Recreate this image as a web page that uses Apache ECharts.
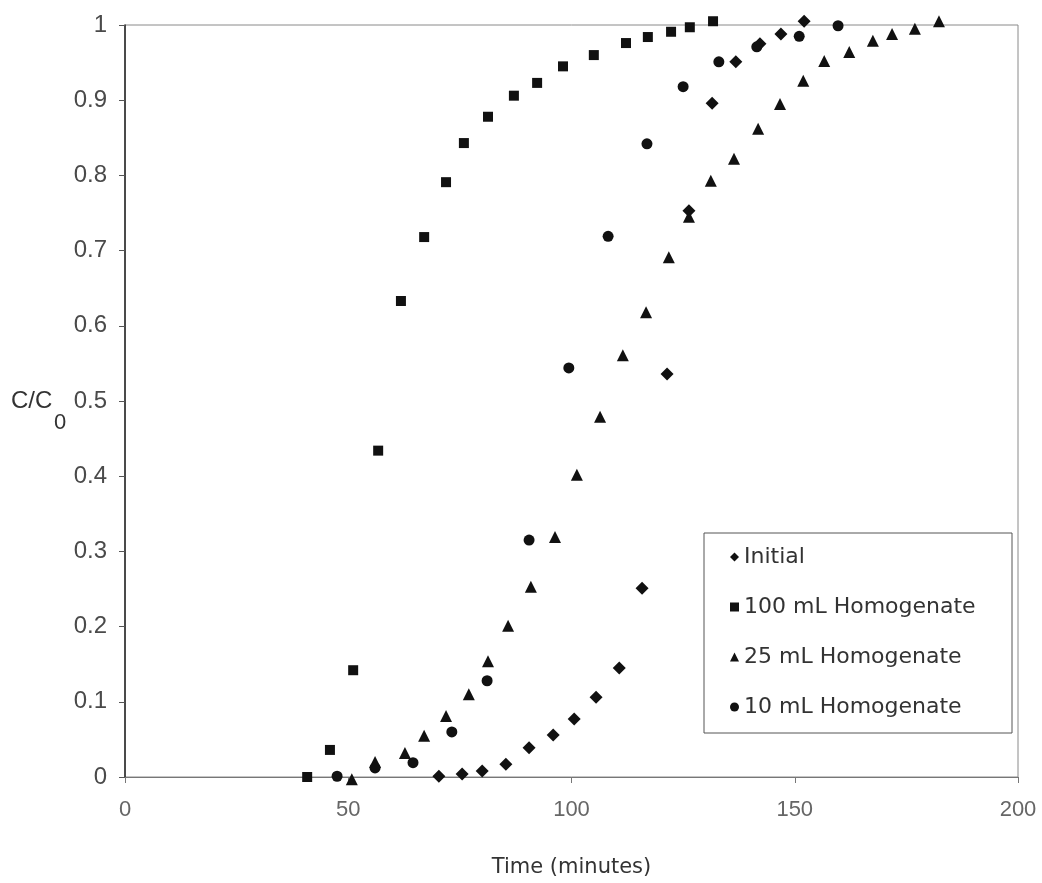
<!DOCTYPE html>
<html>
<head>
<meta charset="utf-8">
<script src="https://cdn.jsdelivr.net/npm/echarts@6/dist/echarts.min.js"></script>
<style>
  html, body { margin: 0; padding: 0; background: #fff; }
  #chart { width: 1042px; height: 883px; }
</style>
</head>
<body>
<div id="chart"></div>
<script>
// Breakthrough curves: relative concentration C/C0 against time (minutes)
const seriesNames = ['Initial', '100 mL Homogenate', '25 mL Homogenate', '10 mL Homogenate'];

// [time (min), C/C0]
const initialData = [
  [70.3, 0.001], [75.5, 0.004], [80.0, 0.008], [85.3, 0.017], [90.5, 0.039],
  [95.9, 0.056], [100.6, 0.077], [105.5, 0.106], [110.7, 0.145], [115.8, 0.251],
  [121.4, 0.536], [126.3, 0.753], [131.5, 0.896], [136.8, 0.951], [142.2, 0.975],
  [146.9, 0.988], [152.1, 1.005]
];
const homog100Data = [
  [40.8, 0.0], [45.9, 0.036], [51.1, 0.142], [56.7, 0.434], [61.8, 0.633],
  [67.0, 0.718], [71.9, 0.791], [75.9, 0.843], [81.3, 0.878], [87.1, 0.906],
  [92.3, 0.923], [98.1, 0.945], [105.0, 0.960], [112.2, 0.976], [117.1, 0.984],
  [122.3, 0.991], [126.5, 0.997], [131.7, 1.005]
];
const homog25Data = [
  [50.8, -0.003], [56.0, 0.020], [62.7, 0.032], [67.0, 0.055], [71.9, 0.081],
  [77.0, 0.110], [81.3, 0.154], [85.8, 0.201], [90.9, 0.253], [96.3, 0.319],
  [101.2, 0.402], [106.4, 0.479], [111.5, 0.561], [116.7, 0.618], [121.8, 0.691],
  [126.3, 0.745], [131.2, 0.793], [136.4, 0.822], [141.8, 0.862], [146.7, 0.895],
  [151.9, 0.926], [156.6, 0.952], [162.2, 0.964], [167.5, 0.979], [171.8, 0.988],
  [176.9, 0.995], [182.3, 1.005]
];
const homog10Data = [
  [47.5, 0.001], [56.0, 0.012], [64.5, 0.019], [73.2, 0.060], [81.1, 0.128],
  [90.5, 0.315], [99.4, 0.544], [108.2, 0.719], [116.9, 0.842], [125.0, 0.918],
  [133.0, 0.951], [141.5, 0.971], [151.0, 0.985], [159.7, 0.999]
];

const xTicks = [0, 50, 100, 150, 200];
const yTicks = [0, 0.1, 0.2, 0.3, 0.4, 0.5, 0.6, 0.7, 0.8, 0.9, 1];

const labelFont = "'Liberation Sans Narrow', 'Liberation Sans', 'DejaVu Sans', sans-serif";
const legendFont = "'DejaVu Sans', sans-serif";
const ink = '#111111';
const labelGrey = '#4a4a4a';

const chart = echarts.init(document.getElementById('chart'), null, { renderer: 'canvas' });

function scatter(name, data, symbol, size) {
  return {
    name: name,
    type: 'scatter',
    data: data,
    symbol: symbol,
    symbolSize: size,
    clip: false,
    itemStyle: { color: ink, opacity: 1 },
    z: 3
  };
}

chart.setOption({
  backgroundColor: '#ffffff',
  animation: false,
  grid: {
    left: 125, right: 24, top: 25, bottom: 105,
    show: true,
    borderColor: '#8a8a8a',
    borderWidth: 1
  },
  xAxis: {
    type: 'value',
    min: xTicks[0],
    max: xTicks[xTicks.length - 1],
    interval: 50,
    name: 'Time (minutes)',
    nameLocation: 'middle',
    nameGap: 80,
    nameTextStyle: { fontFamily: "'DejaVu Sans', sans-serif", fontSize: 21, color: '#333' },
    axisLine: { onZero: false, lineStyle: { color: '#777', width: 1 } },
    axisTick: { show: true, length: 6, lineStyle: { color: '#777' } },
    splitLine: { show: false },
    axisLabel: {
      margin: 22,
      fontFamily: labelFont,
      fontSize: 22,
      color: '#666'
    }
  },
  yAxis: {
    type: 'value',
    min: yTicks[0],
    max: yTicks[yTicks.length - 1],
    interval: 0.1,
    axisLine: { lineStyle: { color: '#222', width: 1.5 } },
    axisTick: { show: true, length: 6, lineStyle: { color: '#555' } },
    splitLine: { show: false },
    axisLabel: {
      margin: 18,
      fontFamily: labelFont,
      fontSize: 24,
      color: labelGrey,
      formatter: function (v) {
        if (v === 0) return '0';
        if (v === 1) return '1';
        return v.toFixed(1);
      }
    }
  },
  legend: {
    orient: 'vertical',
    left: 730,
    top: 544,
    itemWidth: 9,
    itemHeight: 9,
    itemGap: 24,
    padding: 0,
    textStyle: {
      fontFamily: legendFont,
      fontSize: 22,
      lineHeight: 26,
      color: '#333'
    },
    data: seriesNames
  },
  graphic: [
    {
      type: 'rect',
      shape: { x: 704, y: 533, width: 308, height: 200 },
      style: { fill: '#fff', stroke: '#555', lineWidth: 1 },
      z: 1
    },
    {
      type: 'text',
      left: 11,
      top: 389,
      style: { text: 'C/C', fontFamily: labelFont, fontSize: 24, fill: '#333' }
    },
    {
      type: 'text',
      left: 54,
      top: 412,
      style: { text: '0', fontFamily: labelFont, fontSize: 22, fill: '#333' }
    }
  ],
  series: [
    scatter(seriesNames[0], initialData, 'diamond', 13),
    scatter(seriesNames[1], homog100Data, 'rect', 10),
    scatter(seriesNames[2], homog25Data, 'triangle', 12),
    scatter(seriesNames[3], homog10Data, 'circle', 11)
  ]
});
</script>
</body>
</html>
